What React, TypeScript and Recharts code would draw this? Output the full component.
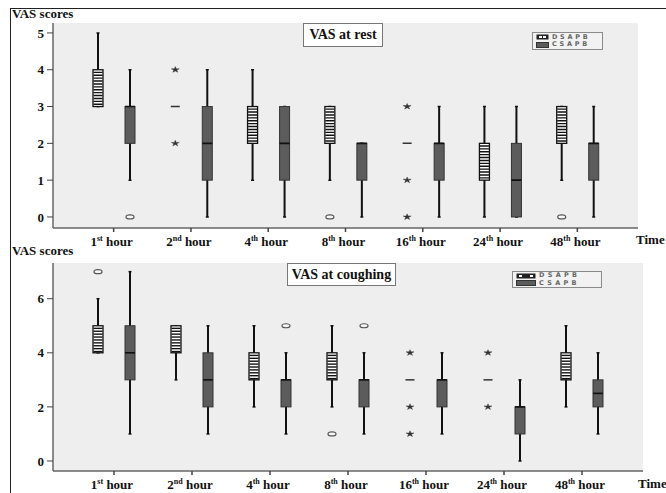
import React from "react";
import { ComposedChart, Bar, XAxis, YAxis, CartesianGrid, Legend } from "recharts";

const timeNum = ["1", "2", "4", "8", "16", "24", "48"];
const timeSup = ["st", "nd", "th", "th", "th", "th", "th"];
const seriesNames = ["DSAPB", "CSAPB"];

// VAS at rest, DSAPB
const restDLow = [3, 3, 1, 1, 2, 0, 1];
const restDQ1 = [3, 3, 2, 2, 2, 1, 2];
const restDMed = [4, 3, 3, 3, 2, 2, 3];
const restDQ3 = [4, 3, 3, 3, 2, 2, 3];
const restDHigh = [5, 3, 4, 3, 2, 3, 3];
const restDCircles = [[], [], [], [0], [], [], [0]];
const restDStars = [[], [2, 4], [], [], [0, 1, 3], [], []];

// VAS at rest, CSAPB
const restCLow = [1, 0, 0, 0, 0, 0, 0];
const restCQ1 = [2, 1, 1, 1, 1, 0, 1];
const restCMed = [3, 2, 2, 2, 2, 1, 2];
const restCQ3 = [3, 3, 3, 2, 2, 2, 2];
const restCHigh = [4, 4, 3, 2, 3, 3, 3];
const restCCircles = [[0], [], [], [], [], [], []];
const restCStars = [[], [], [], [], [], [], []];

// VAS at coughing, DSAPB
const coughDLow = [4, 3, 2, 2, 3, 3, 2];
const coughDQ1 = [4, 4, 3, 3, 3, 3, 3];
const coughDMed = [5, 5, 4, 3, 3, 3, 4];
const coughDQ3 = [5, 5, 4, 4, 3, 3, 4];
const coughDHigh = [6, 5, 5, 5, 3, 3, 5];
const coughDCircles = [[7], [], [], [1], [], [], []];
const coughDStars = [[], [], [], [], [1, 2, 4], [2, 4], []];

// VAS at coughing, CSAPB
const coughCLow = [1, 1, 1, 1, 1, 0, 1];
const coughCQ1 = [3, 2, 2, 2, 2, 1, 2];
const coughCMed = [4, 3, 3, 3, 3, 2, 2.5];
const coughCQ3 = [5, 4, 3, 3, 3, 2, 3];
const coughCHigh = [7, 5, 4, 4, 4, 3, 4];
const coughCCircles = [[], [], [5], [5], [], [], []];
const coughCStars = [[], [], [], [], [], [], []];

const restTicks = [0, 1, 2, 3, 4, 5];
const coughTicks = [0, 2, 4, 6];

const serif = "'Liberation Serif', 'Times New Roman', serif";

type Series = {
  lo: number[]; q1: number[]; med: number[]; q3: number[]; hi: number[];
  circles: number[][]; stars: number[][];
};

function pick(s: Series, i: number) {
  const all = [s.lo[i], s.hi[i], ...s.circles[i], ...s.stars[i]];
  return {
    stat: { lo: s.lo[i], q1: s.q1[i], med: s.med[i], q3: s.q3[i], hi: s.hi[i], circles: s.circles[i], stars: s.stars[i] },
    range: [Math.min(...all), Math.max(...all)],
  };
}

function buildRows(d: Series, c: Series) {
  return timeNum.map((t, i) => {
    const pd = pick(d, i);
    const pc = pick(c, i);
    return { time: t, d: pd.stat, dRange: pd.range, c: pc.stat, cRange: pc.range };
  });
}

const restRows = buildRows(
  { lo: restDLow, q1: restDQ1, med: restDMed, q3: restDQ3, hi: restDHigh, circles: restDCircles, stars: restDStars },
  { lo: restCLow, q1: restCQ1, med: restCMed, q3: restCQ3, hi: restCHigh, circles: restCCircles, stars: restCStars }
);
const coughRows = buildRows(
  { lo: coughDLow, q1: coughDQ1, med: coughDMed, q3: coughDQ3, hi: coughDHigh, circles: coughDCircles, stars: coughDStars },
  { lo: coughCLow, q1: coughCQ1, med: coughCMed, q3: coughCQ3, hi: coughCHigh, circles: coughCCircles, stars: coughCStars }
);

function starPath(cx: number, cy: number) {
  const pts: string[] = [];
  for (let k = 0; k < 10; k++) {
    const a = -Math.PI / 2 + (k * Math.PI) / 5;
    const r = k % 2 === 0 ? 4.2 : 1.6;
    pts.push(`${(cx + r * Math.cos(a)).toFixed(2)},${(cy + r * 0.75 * Math.sin(a)).toFixed(2)}`);
  }
  return `M${pts.join("L")}Z`;
}

const boxShape = (key: "d" | "c", hatched: boolean) => (props: any) => {
  const { x, y, width, height, payload } = props;
  const s = payload[key];
  const [mn, mx] = payload[key + "Range"];
  const top = height >= 0 ? y : y + height;
  const h = Math.abs(height);
  const py = (v: number) => top + (h * (mx - v)) / (mx - mn);
  const cx = x + width / 2;
  const parts: React.ReactNode[] = [];

  if (s.hi > s.lo) {
    parts.push(<line key="w" x1={cx} x2={cx} y1={py(s.hi)} y2={py(s.lo)} stroke="#111" strokeWidth={2} />);
    parts.push(<line key="wt" x1={cx - 1.5} x2={cx + 1.5} y1={py(s.hi)} y2={py(s.hi)} stroke="#111" strokeWidth={1.5} />);
    parts.push(<line key="wb" x1={cx - 1.5} x2={cx + 1.5} y1={py(s.lo)} y2={py(s.lo)} stroke="#111" strokeWidth={1.5} />);
  }

  if (s.q3 > s.q1) {
    const bt = py(s.q3);
    const bb = py(s.q1);
    if (hatched) {
      parts.push(<rect key="b" x={x} y={bt} width={width} height={bb - bt} fill="#fff" stroke="#111" strokeWidth={1.3} />);
      for (let yy = bt + 2.6; yy < bb - 1; yy += 2.9) {
        parts.push(<line key={"h" + yy} x1={x + 0.5} x2={x + width - 0.5} y1={yy} y2={yy} stroke="#111" strokeWidth={1.4} />);
      }
    } else {
      parts.push(<rect key="b" x={x} y={bt} width={width} height={bb - bt} fill="#5c5c5c" stroke="#333" strokeWidth={1} />);
      parts.push(<line key="m" x1={x} x2={x + width} y1={py(s.med)} y2={py(s.med)} stroke="#111" strokeWidth={1.6} />);
    }
  } else {
    parts.push(<line key="dash" x1={cx - 4.5} x2={cx + 4.5} y1={py(s.med)} y2={py(s.med)} stroke="#333" strokeWidth={1.5} />);
  }

  s.circles.forEach((v: number, k: number) => {
    parts.push(<ellipse key={"o" + k} cx={cx} cy={py(v)} rx={4} ry={2} fill="#f6f6f6" stroke="#555" strokeWidth={1.2} />);
  });
  s.stars.forEach((v: number, k: number) => {
    parts.push(<path key={"s" + k} d={starPath(cx, py(v))} fill="#333" stroke="#333" strokeWidth={0.4} />);
  });

  return <g>{parts}</g>;
};

const TimeTick = (props: any) => {
  const { x, y, payload } = props;
  const i = timeNum.indexOf(String(payload.value));
  return (
    <text x={x - 2} y={y + 12} textAnchor="middle" fontFamily={serif} fontWeight="bold" fontSize={13} fill="#111">
      <tspan>{timeNum[i]}</tspan>
      <tspan dy={-5} fontSize={8}>{timeSup[i]}</tspan>
      <tspan dy={5}> hour</tspan>
    </text>
  );
};

const Swatch = ({ hatched, w }: { hatched: boolean; w: number }) => (
  <svg width={w} height={6} style={{ display: "block", marginRight: 3, flex: "none" }}>
    {hatched ? (
      <g>
        <rect x={0.5} y={0.5} width={w - 1} height={5} fill="#222" />
        <rect x={3} y={2} width={3} height={2} fill="#fff" />
        <rect x={w - 6} y={2} width={3} height={2} fill="#fff" />
      </g>
    ) : (
      <rect x={0.5} y={0.5} width={w - 1} height={5} fill="#5c5c5c" stroke="#333" />
    )}
  </svg>
);

const makeLegend = (w: number, h: number, sw: number, ls: number) => (props: any) => {
  const items = (props.payload || []) as any[];
  return (
    <div
      style={{
        width: w,
        height: h,
        boxSizing: "border-box",
        border: "1.5px solid #8a8a8a",
        background: "#f2f2f2",
        display: "flex",
        flexDirection: "column",
        justifyContent: "center",
        paddingLeft: 3,
      }}
    >
      {seriesNames.map((name) => {
        const it = items.find((p) => p.value === name);
        return (
          <div key={name} style={{ display: "flex", alignItems: "center", height: 7.5, overflow: "visible" }}>
            <Swatch hatched={name === "DSAPB"} w={sw} />
            <span
              style={{
                fontFamily: "'DejaVu Sans', sans-serif",
                fontWeight: "bold",
                fontSize: 6.5,
                lineHeight: "7.5px",
                letterSpacing: ls,
                color: "#666",
                whiteSpace: "nowrap",
              }}
            >
              {it ? it.value : name}
            </span>
          </div>
        );
      })}
    </div>
  );
};

const textStyle: React.CSSProperties = {
  position: "absolute",
  fontFamily: serif,
  fontWeight: "bold",
  fontSize: 13,
  lineHeight: "15px",
  color: "#111",
  whiteSpace: "nowrap",
};

type PanelProps = {
  rows: any[];
  ticks: number[];
  domain: [number, number];
  margin: { top: number; right: number; bottom: number; left: number };
  legendPos: { left: number; top: number; w: number; h: number; sw: number; ls: number };
};

function Panel({ rows, ticks, domain, margin, legendPos }: PanelProps) {
  return (
    <div style={{ position: "absolute", left: 0, top: 0 }}>
      <ComposedChart width={666} height={493} data={rows} margin={margin} barSize={10} barGap={22}>
        <CartesianGrid horizontal={false} vertical={false} fill="#eeeeee" />
        <XAxis
          dataKey="time"
          type="category"
          height={22}
          padding={{ left: 22, right: 22 }}
          axisLine={{ stroke: "#666", strokeWidth: 1.5 }}
          tickLine={{ stroke: "#444", strokeWidth: 1.5 }}
          tickSize={4}
          tick={<TimeTick />}
          interval={0}
        />
        <XAxis xAxisId="top" orientation="top" type="number" domain={[0, 1]} height={0} tick={false} tickLine={false} axisLine={{ stroke: "#9a9a9a" }} />
        <YAxis
          type="number"
          domain={domain}
          ticks={ticks}
          allowDataOverflow
          width={40}
          axisLine={{ stroke: "#666", strokeWidth: 1.5 }}
          tickLine={{ stroke: "#444" }}
          tickSize={6}
          tickMargin={3}
          tick={{ fill: "#111", fontFamily: serif, fontWeight: "bold", fontSize: 13 }}
        />
        <YAxis yAxisId="right" orientation="right" type="number" domain={[0, 1]} width={0} tick={false} tickLine={false} axisLine={{ stroke: "#9a9a9a" }} />
        <Legend
          layout="vertical"
          align="center"
          verticalAlign="middle"
          content={makeLegend(legendPos.w, legendPos.h, legendPos.sw, legendPos.ls)}
          wrapperStyle={{ left: legendPos.left, top: legendPos.top, width: legendPos.w, height: legendPos.h }}
        />
        <Bar dataKey="dRange" name={seriesNames[0]} fill="#fff" shape={boxShape("d", true)} isAnimationActive={false} legendType="rect" />
        <Bar dataKey="cRange" name={seriesNames[1]} fill="#5c5c5c" shape={boxShape("c", false)} isAnimationActive={false} legendType="rect" />
      </ComposedChart>
    </div>
  );
}

const titleStyle: React.CSSProperties = {
  position: "absolute",
  background: "#fff",
  border: "1px solid #777",
  boxSizing: "border-box",
  fontFamily: serif,
  fontWeight: "bold",
  fontSize: 14,
  color: "#111",
  display: "flex",
  alignItems: "center",
  justifyContent: "center",
  whiteSpace: "nowrap",
};

export default function App() {
  return (
    <div style={{ position: "absolute", left: 0, top: 0, width: 666, height: 493, overflow: "hidden", background: "#fff" }}>
      <div style={{ position: "absolute", left: 10, top: 8, width: 700, height: 500, borderTop: "1.5px solid #222", borderLeft: "1.5px solid #222" }} />
      <Panel
        rows={restRows}
        ticks={restTicks}
        domain={[-0.3, 5.27]}
        margin={{ top: 23, right: 28, bottom: 243, left: 13 }}
        legendPos={{ left: 532, top: 32, w: 71, h: 18, sw: 13, ls: 2.7 }}
      />
      <Panel
        rows={coughRows}
        ticks={coughTicks}
        domain={[-0.37, 7.32]}
        margin={{ top: 263, right: 23, bottom: 0, left: 13 }}
        legendPos={{ left: 512, top: 271, w: 90, h: 17, sw: 20, ls: 3.3 }}
      />
      <div style={{ ...titleStyle, left: 303, top: 23, width: 80, height: 24 }}>VAS at rest</div>
      <div style={{ ...titleStyle, left: 287, top: 263, width: 109, height: 23 }}>VAS at coughing</div>
      <div style={{ ...textStyle, left: 12, top: 6 }}>VAS scores</div>
      <div style={{ ...textStyle, left: 12, top: 243 }}>VAS scores</div>
      <div style={{ ...textStyle, left: 636, top: 232 }}>Time</div>
      <div style={{ ...textStyle, left: 638, top: 476 }}>Time</div>
    </div>
  );
}
